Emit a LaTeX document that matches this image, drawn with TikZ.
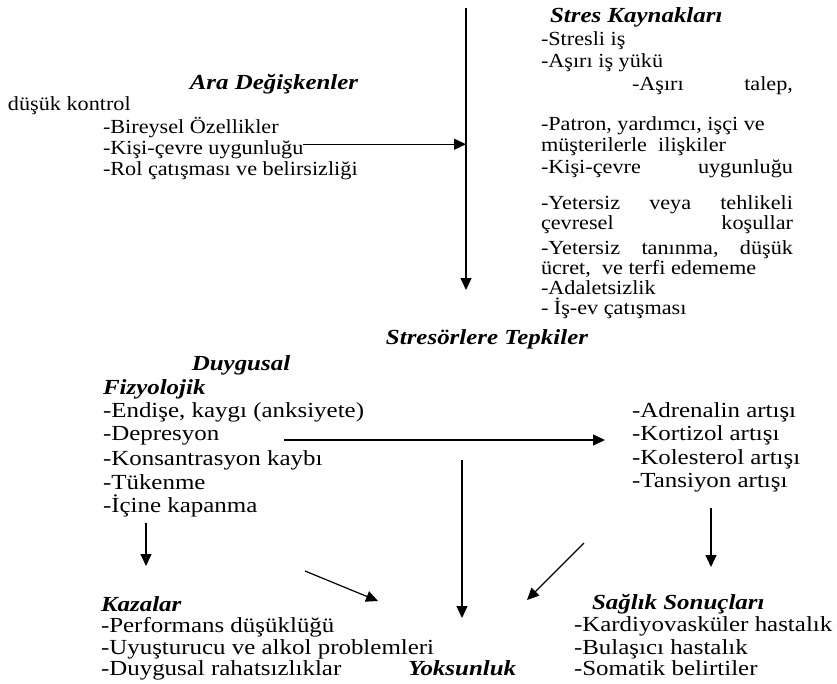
\documentclass[tikz,border=0pt]{standalone}
\usepackage{fontspec}
\setmainfont{Liberation Serif}[FakeStretch=1.11]
\newfontfamily\widefam{Liberation Serif}[FakeStretch=1.16]
\usetikzlibrary{arrows.meta}
\tikzset{
  txt/.style={anchor=base west, inner sep=0pt, outer sep=0pt, font=\fontsize{20}{22}\selectfont},
  big/.style={txt, font=\widefam\fontsize{21.5}{22}\selectfont},
  hd/.style={txt, font=\widefam\fontsize{21.5}{22}\selectfont\bfseries\itshape},
  arr/.style={line width=1.2pt, -{Triangle[length=12pt,width=11pt]}},
}
\begin{document}
\begin{tikzpicture}[x=1pt,y=-1pt]
\path[use as bounding box] (0,0) rectangle (837,683);

% top left block
\node[hd, anchor=base] (ara) at (274,89) {Ara Değişkenler};
\node[txt] (dk) at (8,110) {düşük kontrol};
\node[txt] (bir) at (103,133) {-Bireysel Özellikler};
\node[txt] (kce) at (103,154) {-Kişi-çevre uygunluğu};
\node[txt] (rol) at (103,175) {-Rol çatışması ve belirsizliği};

% top right block
\node[hd] (sk) at (550,22) {Stres Kaynakları};
\node[txt] (s1) at (541,45) {-Stresli iş};
\node[txt] (s2) at (541,67) {-Aşırı iş yükü};
\node[txt] (s3) at (632,90) {\makebox[161pt][l]{-Aşırı\hfill talep,}};
\node[txt] (s4) at (541,130) {-Patron, yardımcı, işçi ve};
\node[txt] (s5) at (541,151) {müşterilerle\ \ ilişkiler};
\node[txt] (s6) at (541,173) {\makebox[252pt][l]{-Kişi-çevre\hfill uygunluğu}};
\node[txt] (s7) at (541,209) {\makebox[252pt][l]{-Yetersiz\hfill veya\hfill tehlikeli}};
\node[txt] (s8) at (541,229) {\makebox[252pt][l]{çevresel\hfill koşullar}};
\node[txt] (s9) at (541,254) {\makebox[252pt][l]{-Yetersiz\hfill tanınma,\hfill düşük}};
\node[txt] (s10) at (541,274) {ücret,\ \ ve terfi edememe};
\node[txt] (s11) at (541,294) {-Adaletsizlik};
\node[txt] (s12) at (541,314) {- İş-ev çatışması};

% main arrow
\coordinate (mtop) at (466,8);
\coordinate (mbot) at (466,290);
\draw[arr] (mtop) -- (mbot);
\draw[arr] ([yshift=5pt]kce.east) -- ([yshift=5pt]kce.east -| mtop);

\node[hd, anchor=base] (tep) at (487,344) {Stresörlere Tepkiler};

% middle left block
\node[hd, anchor=base] (duy) at (241,370) {Duygusal};
\node[hd] (fiz) at (103,394) {Fizyolojik};
\node[big] (e1) at (103,417) {-Endişe, kaygı (anksiyete)};
\node[big] (e2) at (103,440) {-Depresyon};
\node[big] (e3) at (103,465) {-Konsantrasyon kaybı};
\node[big] (e4) at (103,489) {-Tükenme};
\node[big] (e5) at (103,512) {-İçine kapanma};

% middle right block
\node[big] (r1) at (632,417) {-Adrenalin artışı};
\node[big] (r2) at (632,440) {-Kortizol artışı};
\node[big] (r3) at (632,464) {-Kolesterol artışı};
\node[big] (r4) at (632,487) {-Tansiyon artışı};

% bottom blocks
\node[hd] (kaz) at (101,611) {Kazalar};
\node[big] (k1) at (101,632) {-Performans düşüklüğü};
\node[big] (k2) at (101,654) {-Uyuşturucu ve alkol problemleri};
\node[big] (k3) at (101,675) {-Duygusal rahatsızlıklar};
\node[hd] (yok) at (408,675) {Yoksunluk};
\node[hd] (sag) at (592,609) {Sağlık Sonuçları};
\node[big] (h1) at (574,631) {-Kardiyovasküler hastalık};
\node[big] (h2) at (574,654) {-Bulaşıcı hastalık};
\node[big] (h3) at (574,675) {-Somatik belirtiler};

% connectors
\coordinate (d0) at (284,440);
\coordinate (d1) at (605,440);
\draw[arr] (d0) -- (d1);
\coordinate (v0) at (462,460);
\coordinate (v1) at (462,618);
\draw[arr] (v0) -- (v1);
\coordinate (rv0) at (711,508);
\coordinate (rv1) at (711,567);
\draw[arr] (rv0) -- (rv1);
\coordinate (lv0) at (146,523);
\coordinate (lv1) at (146,566);
\draw[arr] (lv0) -- (lv1);
\coordinate (a0) at (305,571);
\coordinate (a1) at (378,601);
\draw[arr] (a0) -- (a1);
\coordinate (b0) at (584,543);
\coordinate (b1) at (527,600);
\draw[arr] (b0) -- (b1);
\end{tikzpicture}
\end{document}
